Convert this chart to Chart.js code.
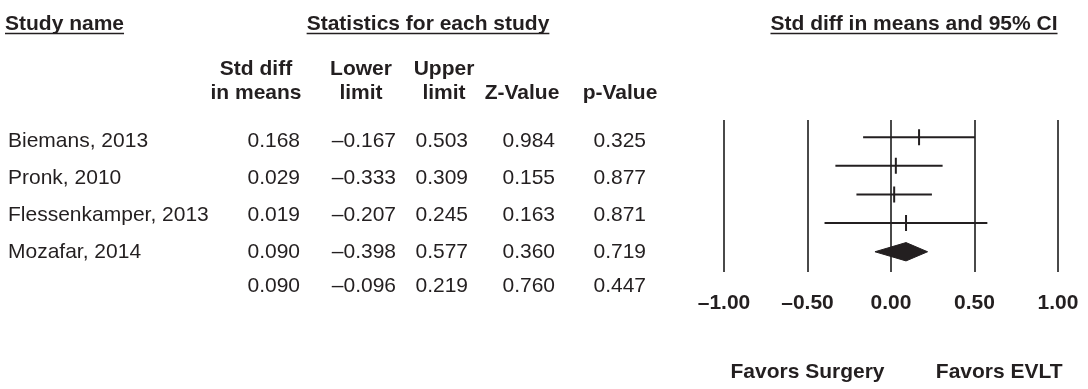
<!DOCTYPE html>
<html>
<head>
<meta charset="utf-8">
<title>Std diff in means: EVLT vs surgery</title>
<script src="https://cdn.jsdelivr.net/npm/chart.js@4.4.1/dist/chart.umd.min.js"></script>
<style>
  html, body { margin: 0; padding: 0; background: #ffffff; }
  #wrap { position: relative; width: 1088px; height: 389px; }
</style>
</head>
<body>
<div id="wrap"><canvas id="forest" width="1088" height="389"></canvas></div>
<script>
// Study-level results
const studies   = ["Biemans, 2013", "Pronk, 2010", "Flessenkamper, 2013", "Mozafar, 2014"];
const stdDiff   = [0.168, 0.029, 0.019, 0.090];
const lowerCI   = [-0.167, -0.333, -0.207, -0.398];
const upperCI   = [0.503, 0.309, 0.245, 0.577];
const zValues   = [0.984, 0.155, 0.163, 0.360];
const pValues   = [0.325, 0.877, 0.871, 0.719];

// Pooled estimate
const pooledStdDiff = 0.090;
const pooledLower   = -0.096;
const pooledUpper   = 0.219;
const pooledZ       = 0.760;
const pooledP       = 0.447;

// Axis ticks and side labels
const tickValues = [-1.0, -0.5, 0.0, 0.5, 1.0];
const tickLabels = ["–1.00", "–0.50", "0.00", "0.50", "1.00"];
const favorsLeft  = "Favors Surgery";
const favorsRight = "Favors EVLT";

const INK = "#231f20";
const FONT = "'Liberation Sans', Arial, Helvetica, sans-serif";

function fmt(v) {
  return (v < 0 ? "–" : "") + Math.abs(v).toFixed(3);
}

// One horizontal CI segment per study
const ciDatasets = studies.map((name, i) => ({
  label: name,
  data: [{ x: lowerCI[i], y: i }, { x: upperCI[i], y: i }],
  showLine: true,
  borderColor: INK,
  borderWidth: 2,
  pointRadius: 0,
  fill: false
}));

// Point estimates drawn as short vertical ticks
const pointDataset = {
  label: "Std diff in means",
  data: studies.map((_, i) => ({ x: stdDiff[i], y: i })),
  pointStyle: "line",
  rotation: 90,
  pointRadius: 8,
  pointBorderWidth: 2,
  pointBorderColor: INK,
  borderColor: INK,
  showLine: false
};

// Pooled diamond as a closed, filled shape
const pooledRow = studies.length;
const dh = 0.32;
const diamondDataset = {
  label: "Pooled",
  data: [
    { x: pooledLower, y: pooledRow },
    { x: pooledStdDiff, y: pooledRow - dh },
    { x: pooledUpper, y: pooledRow },
    { x: pooledStdDiff, y: pooledRow + dh },
    { x: pooledLower, y: pooledRow }
  ],
  showLine: true,
  borderColor: INK,
  borderWidth: 1,
  backgroundColor: INK,
  fill: "shape",
  pointRadius: 0,
  tension: 0
};

// Table text, headers and the favour labels
const tablePlugin = {
  id: "forestTable",
  afterDraw(chart) {
    const ctx = chart.ctx;
    ctx.save();
    ctx.fillStyle = INK;
    ctx.strokeStyle = INK;
    ctx.textBaseline = "alphabetic";

    function text(str, x, y, align, bold, underline) {
      ctx.font = (bold ? "bold " : "") + "21px " + FONT;
      ctx.textAlign = align;
      ctx.fillText(str, x, y);
      if (underline) {
        const w = ctx.measureText(str).width;
        let x0 = x;
        if (align === "center") x0 = x - w / 2;
        else if (align === "right") x0 = x - w;
        ctx.lineWidth = 1.6;
        ctx.beginPath();
        ctx.moveTo(x0, y + 3.5);
        ctx.lineTo(x0 + w, y + 3.5);
        ctx.stroke();
      }
    }

    // Section headings
    text("Study name", 5, 30, "left", true, true);
    text("Statistics for each study", 428, 30, "center", true, true);
    text("Std diff in means and 95% CI", 914, 30, "center", true, true);

    // Column headings
    text("Std diff", 256, 75, "center", true);
    text("in means", 256, 99, "center", true);
    text("Lower", 361, 75, "center", true);
    text("limit", 361, 99, "center", true);
    text("Upper", 444, 75, "center", true);
    text("limit", 444, 99, "center", true);
    text("Z-Value", 522, 99, "center", true);
    text("p-Value", 620, 99, "center", true);

    // Study rows
    const rowY = (i) => 147 + i * 37;
    studies.forEach((name, i) => {
      const y = rowY(i);
      text(name, 8, y, "left", false);
      text(fmt(stdDiff[i]), 300, y, "right", false);
      text(fmt(lowerCI[i]), 396, y, "right", false);
      text(fmt(upperCI[i]), 468, y, "right", false);
      text(fmt(zValues[i]), 555, y, "right", false);
      text(fmt(pValues[i]), 646, y, "right", false);
    });
    const yp = rowY(studies.length) - 3;
    text(fmt(pooledStdDiff), 300, yp, "right", false);
    text(fmt(pooledLower), 396, yp, "right", false);
    text(fmt(pooledUpper), 468, yp, "right", false);
    text(fmt(pooledZ), 555, yp, "right", false);
    text(fmt(pooledP), 646, yp, "right", false);

    // Direction labels under the axis
    const xs = chart.scales.x;
    const leftCenter = xs.getPixelForValue(tickValues[1]);
    const rightCenter = (xs.getPixelForValue(tickValues[3]) + xs.getPixelForValue(tickValues[4])) / 2 - 17;
    text(favorsLeft, leftCenter, 378, "center", true);
    text(favorsRight, rightCenter, 378, "center", true);

    ctx.restore();
  }
};

new Chart(document.getElementById("forest"), {
  type: "scatter",
  data: { datasets: [...ciDatasets, pointDataset, diamondDataset] },
  options: {
    responsive: false,
    animation: false,
    events: [],
    layout: { padding: { left: 724, right: 30, top: 120, bottom: 54 } },
    plugins: {
      legend: { display: false },
      tooltip: { enabled: false }
    },
    scales: {
      x: {
        type: "linear",
        min: -1,
        max: 1,
        afterBuildTicks(axis) {
          axis.ticks = tickValues.map(v => ({ value: v }));
        },
        afterFit(axis) {
          // the layout padding already leaves room for the end labels
          axis.paddingLeft = 0;
          axis.paddingRight = 0;
        },
        border: { display: false },
        grid: {
          color: "#4a4a4a",
          lineWidth: 2,
          drawTicks: false
        },
        ticks: {
          padding: 19,
          color: INK,
          maxRotation: 0,
          autoSkip: false,
          font: { family: FONT, size: 21, weight: "bold" },
          callback(value, index) { return tickLabels[index]; }
        }
      },
      y: {
        type: "linear",
        display: false,
        reverse: true,
        min: -0.6,
        max: 4.7
      }
    }
  },
  plugins: [tablePlugin]
});
</script>
</body>
</html>
